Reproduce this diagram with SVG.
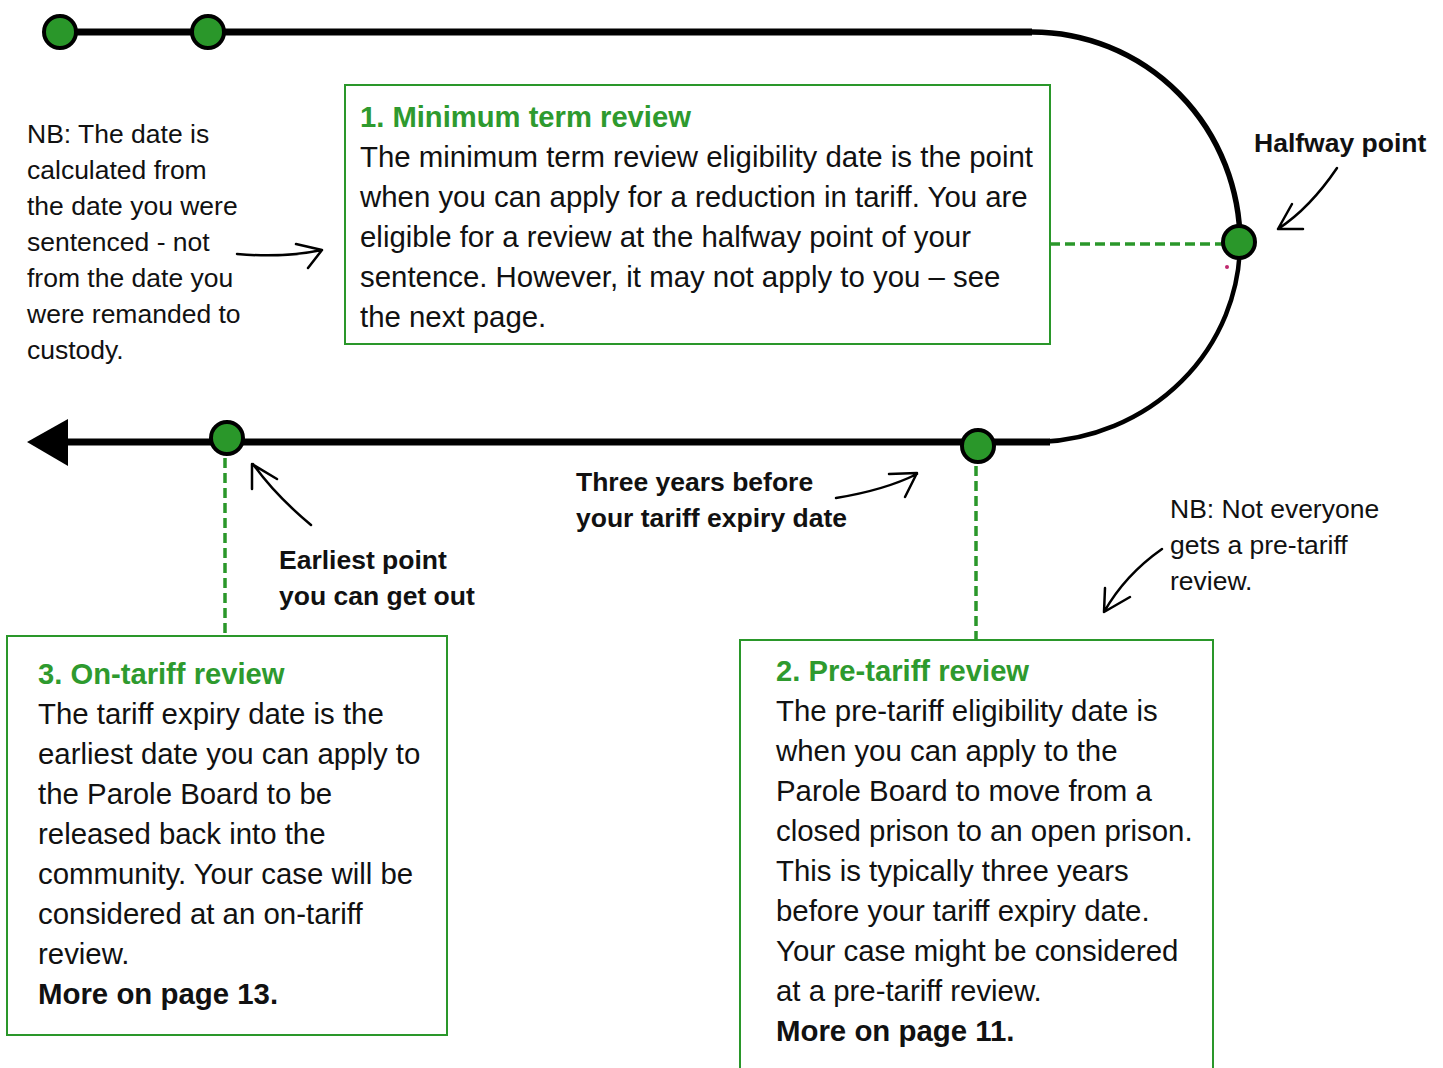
<svg xmlns="http://www.w3.org/2000/svg" width="1443" height="1068" viewBox="0 0 1443 1068">
  <style>
    .track { fill: none; stroke: #000; stroke-width: 7; }
    .node { fill: #2a972a; stroke: #000; stroke-width: 4; }
    .link { fill: none; stroke: #2a972a; stroke-width: 3.5; stroke-dasharray: 10 5; }
    .box { fill: #fff; stroke: #2a972a; stroke-width: 2; }
    .hand { fill: none; stroke: #000; stroke-width: 2.5; stroke-linecap: round; stroke-linejoin: round; }
    .body { font-family: "Liberation Sans", Arial, sans-serif; font-size: 29.4px; fill: #111; }
    .title { font-family: "Liberation Sans", Arial, sans-serif; font-size: 29.2px; font-weight: bold; fill: #2e9a2e; }
    .bold { font-weight: bold; }
    .note { font-family: "Liberation Sans", Arial, sans-serif; font-size: 26.5px; fill: #111; }
    .label { font-family: "Liberation Sans", Arial, sans-serif; font-size: 26.5px; font-weight: bold; fill: #111; }
  </style>

  <!-- timeline track -->
  <g id="connectors">
    <line class="track" x1="60" y1="32" x2="1032" y2="32"/>
    <path fill="none" stroke="#000" stroke-width="5.5" d="M1032,32 A208,211 0 0 1 1240,243"/>
    <path fill="none" stroke="#000" stroke-width="4.5" d="M1240,243 A208,200 0 0 1 1040,442"/>
    <line class="track" x1="62" y1="442" x2="1050" y2="442"/>
    <polygon points="27,442 68,419 68,466" fill="#000"/>
    <!-- dashed links from milestones to boxes -->
    <line class="link" x1="1050" y1="244" x2="1222" y2="244"/>
    <line class="link" x1="225" y1="458" x2="225" y2="636"/>
    <line class="link" x1="976" y1="466" x2="976" y2="640"/>
    <circle cx="1227" cy="267" r="2" fill="#c0286e"/>
  </g>

  <!-- milestones -->
  <g id="node-start"><circle class="node" cx="60" cy="32" r="16"/></g>
  <g id="node-second"><circle class="node" cx="208" cy="32" r="16"/></g>
  <g id="node-halfway"><circle class="node" cx="1239" cy="242" r="16"/></g>
  <g id="node-pre-tariff"><circle class="node" cx="978" cy="446" r="16"/></g>
  <g id="node-earliest"><circle class="node" cx="227" cy="438" r="16"/></g>

  <!-- box 1 -->
  <g id="box-minimum-term">
    <rect class="box" x="345" y="85" width="705" height="259"/>
    <text class="title" x="360" y="127">1. Minimum term review</text>
    <text class="body" x="360" y="167">The minimum term review eligibility date is the point</text>
    <text class="body" x="360" y="207">when you can apply for a reduction in tariff. You are</text>
    <text class="body" x="360" y="247">eligible for a review at the halfway point of your</text>
    <text class="body" x="360" y="287">sentence. However, it may not apply to you – see</text>
    <text class="body" x="360" y="327">the next page.</text>
  </g>

  <!-- box 3 -->
  <g id="box-on-tariff">
    <rect class="box" x="7" y="636" width="440" height="399"/>
    <text class="title" x="38" y="684">3. On-tariff review</text>
    <text class="body" x="38" y="724">The tariff expiry date is the</text>
    <text class="body" x="38" y="764">earliest date you can apply to</text>
    <text class="body" x="38" y="804">the Parole Board to be</text>
    <text class="body" x="38" y="844">released back into the</text>
    <text class="body" x="38" y="884">community. Your case will be</text>
    <text class="body" x="38" y="924">considered at an on-tariff</text>
    <text class="body" x="38" y="964">review.</text>
    <text class="body bold" x="38" y="1004">More on page 13.</text>
  </g>

  <!-- box 2 -->
  <g id="box-pre-tariff">
    <path class="box" d="M740,1070 V640 H1213 V1070"/>
    <text class="title" x="776" y="681">2. Pre-tariff review</text>
    <text class="body" x="776" y="721">The pre-tariff eligibility date is</text>
    <text class="body" x="776" y="761">when you can apply to the</text>
    <text class="body" x="776" y="801">Parole Board to move from a</text>
    <text class="body" x="776" y="841">closed prison to an open prison.</text>
    <text class="body" x="776" y="881">This is typically three years</text>
    <text class="body" x="776" y="921">before your tariff expiry date.</text>
    <text class="body" x="776" y="961">Your case might be considered</text>
    <text class="body" x="776" y="1001">at a pre-tariff review.</text>
    <text class="body bold" x="776" y="1041">More on page 11.</text>
  </g>

  <!-- side notes -->
  <g id="note-date">
    <text class="note" x="27" y="143">NB: The date is</text>
    <text class="note" x="27" y="179">calculated from</text>
    <text class="note" x="27" y="215">the date you were</text>
    <text class="note" x="27" y="251">sentenced - not</text>
    <text class="note" x="27" y="287">from the date you</text>
    <text class="note" x="27" y="323">were remanded to</text>
    <text class="note" x="27" y="359">custody.</text>
    <path class="hand" d="M237,254 Q285,258 322,250 M296,244 L322,250 L308,268"/>
  </g>

  <g id="note-halfway">
    <text class="label" x="1254" y="152">Halfway point</text>
    <path class="hand" d="M1337,168 Q1310,208 1278,229 M1292,204 L1278,229 L1303,229"/>
  </g>

  <g id="note-three-years">
    <text class="label" x="576" y="491">Three years before</text>
    <text class="label" x="576" y="527">your tariff expiry date</text>
    <path class="hand" d="M836,498 Q885,490 917,474 M889,474 L917,473 L905,497"/>
  </g>

  <g id="note-earliest">
    <text class="label" x="279" y="569">Earliest point</text>
    <text class="label" x="279" y="605">you can get out</text>
    <path class="hand" d="M311,525 Q275,495 253,464 M252,489 L252,464 L277,479"/>
  </g>

  <g id="note-pre-tariff">
    <text class="note" x="1170" y="518">NB: Not everyone</text>
    <text class="note" x="1170" y="554">gets a pre-tariff</text>
    <text class="note" x="1170" y="590">review.</text>
    <path class="hand" d="M1162,549 Q1125,575 1104,612 M1105,588 L1104,612 L1130,597"/>
  </g>
</svg>
